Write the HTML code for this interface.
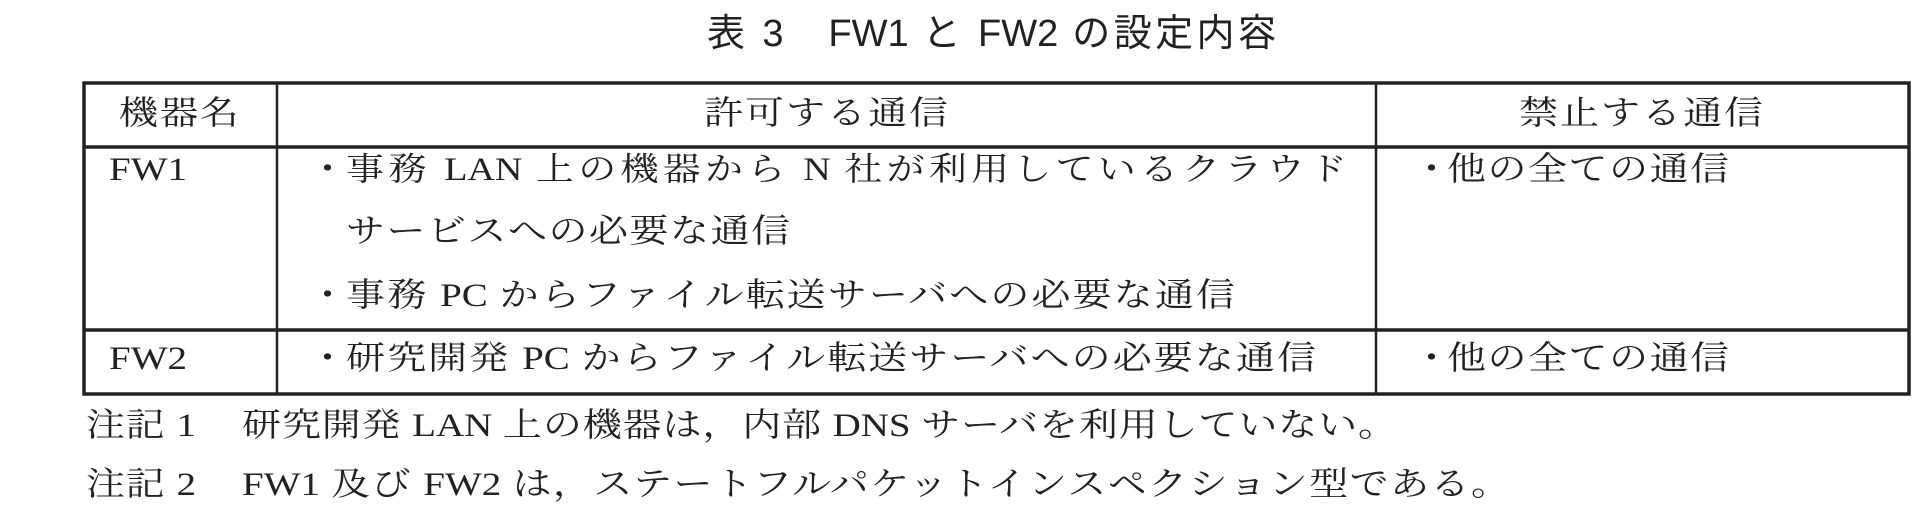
<!DOCTYPE html>
<html><head><meta charset="utf-8"><style>
body{margin:0;width:1928px;height:512px;background:#fff;position:relative;overflow:hidden}
.t{position:absolute;height:50px;line-height:50px;font-family:"Liberation Serif","Noto Serif CJK JP","Noto Serif CJK SC",serif;font-size:39px;color:#222;text-align:justify;text-align-last:justify;white-space:nowrap;overflow:visible;transform:scaleY(0.85);transform-origin:center}
.s{font-family:"Liberation Sans","Noto Sans CJK JP",sans-serif;font-size:38px;transform:scaleY(1)}
</style></head><body>
<svg width="1928" height="512" style="position:absolute;left:0;top:0">
<g stroke="#222" fill="none">
<rect x="84" y="83" width="1825" height="311" stroke-width="3.5"/>
<line x1="84" y1="147" x2="1909" y2="147" stroke-width="3.5"/>
<line x1="84" y1="330" x2="1909" y2="330" stroke-width="3.5"/>
<line x1="277" y1="83" x2="277" y2="394" stroke-width="2.5"/>
<line x1="1376" y1="83" x2="1376" y2="394" stroke-width="2.5"/>
</g></svg>
<div class="t s" style="left:707px;top:9px;width:569px">表 3　FW1 と FW2 の設定内容</div>
<div class="t" style="left:119px;top:89px;width:120px">機器名</div>
<div class="t" style="left:704px;top:89px;width:244px">許可する通信</div>
<div class="t" style="left:1519px;top:89px;width:244px">禁止する通信</div>
<div class="t" style="left:109px;top:145px">FW1</div>
<div class="t" style="left:308px;top:145px">・</div>
<div class="t" style="left:346px;top:145px;width:1001px;font-size:38px">事務 LAN 上の機器から N 社が利用しているクラウド</div>
<div class="t" style="left:346px;top:207px;width:444px">サービスへの必要な通信</div>
<div class="t" style="left:308px;top:271px">・</div>
<div class="t" style="left:346px;top:271px;width:889px">事務 PC からファイル転送サーバへの必要な通信</div>
<div class="t" style="left:1412px;top:145px">・</div>
<div class="t" style="left:1447px;top:145px;width:282px">他の全ての通信</div>
<div class="t" style="left:109px;top:334px">FW2</div>
<div class="t" style="left:308px;top:334px">・</div>
<div class="t" style="left:346px;top:334px;width:970px">研究開発 PC からファイル転送サーバへの必要な通信</div>
<div class="t" style="left:1412px;top:334px">・</div>
<div class="t" style="left:1447px;top:334px;width:282px">他の全ての通信</div>
<div class="t" style="left:86px;top:401px;width:110px">注記 1</div>
<div class="t" style="left:242px;top:401px;width:1155px">研究開発 LAN 上の機器は，内部 DNS サーバを利用していない。</div>
<div class="t" style="left:86px;top:460px;width:110px">注記 2</div>
<div class="t" style="left:242px;top:460px;width:1268px">FW1 及び FW2 は，ステートフルパケットインスペクション型である。</div>
</body></html>
